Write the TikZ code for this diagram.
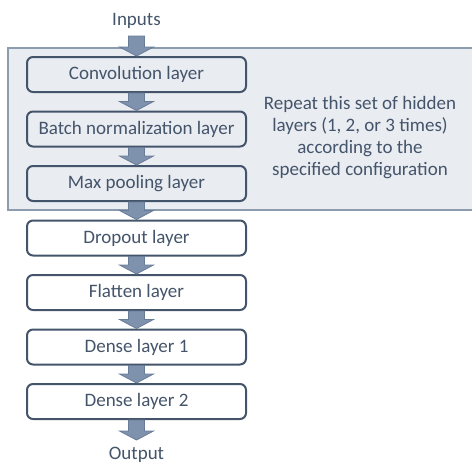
\documentclass[tikz,border=0pt]{standalone}
\usepackage{fontspec}
\setmainfont{Carlito}
\usepackage{xcolor}
\usetikzlibrary{calc}
\definecolor{slate}{HTML}{44546A}
\definecolor{panel}{HTML}{E9ECF1}
\definecolor{panelrule}{HTML}{8C9BAE}
\definecolor{arrowfill}{HTML}{7F92AD}
\definecolor{arrowrule}{HTML}{687C98}
% block arrow from a point (#1) down to a point (#2)
\newcommand{\flowarrow}[2]{%
  \draw[flow] ($(#1)+(-8,0)$) -- ($(#2)+(-8,9)$) -- ($(#2)+(-17,9)$) -- (#2)
    -- ($(#2)+(17,9)$) -- ($(#2)+(8,9)$) -- ($(#1)+(8,0)$) -- cycle;}
\begin{document}
\begin{tikzpicture}[x=1pt,y=1pt,
  layer/.style={draw=slate,line width=2pt,rounded corners=6pt,fill=white,
                minimum width=219pt,minimum height=35pt,inner sep=0pt,
                font=\fontsize{19}{22}\selectfont,text=slate},
  hidden/.style={layer,fill=panel},
  lbl/.style={font=\fontsize{19}{22}\selectfont,text=slate},
  flow/.style={fill=arrowfill,draw=arrowrule,line width=0.8pt,line join=miter}]
\useasboundingbox (0,0) rectangle (472,-463);
% repeated block
\draw[fill=panel,draw=panelrule,line width=1.5pt] (8,-48) rectangle (476,-210);
\node[hidden] (conv)  at (136.5,-74.5) {Convolution layer};
\node[hidden] (batch) at (136.5,-129)  {Batch normalization layer};
\node[hidden] (pool)  at (136.5,-183.5){Max pooling layer};
\node[lbl,align=center] (note) at (360,-138)
  {Repeat this set of hidden\\layers (1, 2, or 3 times)\\according to the\\specified configuration};
% remaining layers
\node[layer] (drop)   at (136.5,-238)  {Dropout layer};
\node[layer] (flat)   at (136.5,-292.5){Flatten layer};
\node[layer] (dense1) at (136.5,-347)  {Dense layer 1};
\node[layer] (dense2) at (136.5,-401.5){Dense layer 2};
% in / out
\node[lbl,anchor=base] (in) at (136.5,-25) {Inputs};
\coordinate (inend) at (136.5,-36);
\coordinate (outtip) at (136.5,-440);
\node[lbl,anchor=base] (out) at (136.5,-459.5) {Output};
\flowarrow{inend}{conv.north}
\flowarrow{conv.south}{batch.north}
\flowarrow{batch.south}{pool.north}
\flowarrow{pool.south}{drop.north}
\flowarrow{drop.south}{flat.north}
\flowarrow{flat.south}{dense1.north}
\flowarrow{dense1.south}{dense2.north}
\flowarrow{dense2.south}{outtip}
\end{tikzpicture}
\end{document}
